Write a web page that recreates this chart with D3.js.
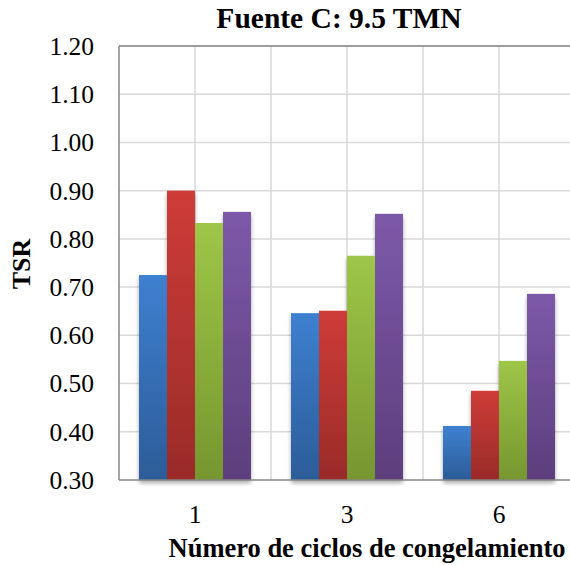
<!DOCTYPE html>
<html>
<head>
<meta charset="utf-8">
<script src="https://cdn.jsdelivr.net/npm/d3@7"></script>
<style>
  body { margin: 0; background: #fff; }
</style>
</head>
<body>
<svg id="chart" width="570" height="565"></svg>
<script>
// chart data
var categories = ["1", "3", "6"];
var seriesNames = ["S1", "S2", "S3", "S4"];
var serie1 = [0.725, 0.646, 0.412];
var serie2 = [0.900, 0.651, 0.485];
var serie3 = [0.833, 0.765, 0.547];
var serie4 = [0.856, 0.852, 0.686];
var yTicks = [0.30, 0.40, 0.50, 0.60, 0.70, 0.80, 0.90, 1.00, 1.10, 1.20];

var colorsTop = ["#3e80d0", "#ce3c38", "#9ec648", "#7d59a9"];
var colorsBottom = ["#2c5c98", "#992b28", "#76962f", "#5d3e7c"];
var fontName = "'Liberation Serif'";

var svg = d3.select("#chart");
var margin = {top: 46, left: 119, bottom: 85, right: -5};
var width = 570 - margin.left - margin.right,
    height = 565 - margin.top - margin.bottom;

var defs = svg.append("defs");
colorsTop.forEach(function(c, i) {
	var g = defs.append("linearGradient")
		.attr("id", "grad" + i)
		.attr("x1", 0).attr("y1", 0).attr("x2", 0).attr("y2", 1);
	g.append("stop").attr("offset", "0%").attr("stop-color", c);
	g.append("stop").attr("offset", "100%").attr("stop-color", colorsBottom[i]);
});
var shadow = defs.append("filter").attr("id", "shadow")
	.attr("x", "-20%").attr("y", "-5%").attr("width", "140%").attr("height", "115%");
shadow.append("feGaussianBlur").attr("in", "SourceAlpha").attr("stdDeviation", 2);
shadow.append("feOffset").attr("dx", 0).attr("dy", 3).attr("result", "ob");
shadow.append("feComponentTransfer").append("feFuncA").attr("type", "linear").attr("slope", 0.35);
var merge = shadow.append("feMerge");
merge.append("feMergeNode");
merge.append("feMergeNode").attr("in", "SourceGraphic");

var chart = svg.append("g")
	.attr("transform", "translate(" + margin.left + "," + margin.top + ")");

var x = d3.scaleBand().domain(categories).range([0, width]).paddingInner(0).paddingOuter(0);
var xs = d3.scaleBand().domain(seriesNames).range([20, x.bandwidth() - 20]);
var y = d3.scaleLinear().domain([0.30, 1.20]).range([height, 0]);

// horizontal gridlines
chart.selectAll(".hgrid")
	.data(yTicks.slice(1))
  .enter()
	.append("line")
	.attr("x1", 0).attr("x2", width)
	.attr("y1", function(d) { return y(d); })
	.attr("y2", function(d) { return y(d); })
	.attr("stroke", "#d9d9d9").attr("stroke-width", 1.5);

// vertical gridlines (band edges and centres)
var vlines = [];
categories.forEach(function(c) {
	if (x(c) > 0) vlines.push(x(c));
	vlines.push(x(c) + x.bandwidth() / 2);
});
chart.selectAll(".vgrid")
	.data(vlines)
  .enter()
	.append("line")
	.attr("x1", function(d) { return d; })
	.attr("x2", function(d) { return d; })
	.attr("y1", 0).attr("y2", height)
	.attr("stroke", "#d9d9d9").attr("stroke-width", 1.5);

// bars
var allSeries = [serie1, serie2, serie3, serie4];
var groups = chart.selectAll(".grp")
	.data(categories)
  .enter()
	.append("g")
	.attr("filter", "url(#shadow)")
	.attr("transform", function(d) { return "translate(" + x(d) + ",0)"; });
groups.selectAll("rect")
	.data(function(d, i) {
		return allSeries.map(function(s, j) { return {name: seriesNames[j], idx: j, value: s[i]}; });
	})
  .enter()
	.append("rect")
	.attr("x", function(d) { return xs(d.name); })
	.attr("width", xs.bandwidth())
	.attr("y", function(d) { return y(d.value); })
	.attr("height", function(d) { return height - y(d.value); })
	.attr("fill", function(d) { return "url(#grad" + d.idx + ")"; });

// axes
chart.append("line")
	.attr("x1", 0).attr("x2", 0).attr("y1", 0).attr("y2", height)
	.attr("stroke", "#868686").attr("stroke-width", 1.5);
chart.append("line")
	.attr("x1", 0).attr("x2", width).attr("y1", height).attr("y2", height)
	.attr("stroke", "#868686").attr("stroke-width", 1.5);
// top border
chart.append("line")
	.attr("x1", 0).attr("x2", width).attr("y1", 0).attr("y2", 0)
	.attr("stroke", "#868686").attr("stroke-width", 1.5);

// y tick labels
chart.selectAll(".ylab")
	.data(yTicks)
  .enter()
	.append("text")
	.attr("x", -25)
	.attr("y", function(d) { return y(d); })
	.attr("dy", "0.35em")
	.attr("text-anchor", "end")
	.attr("font-family", fontName)
	.attr("font-size", 25.5)
	.text(function(d) { return d3.format(".2f")(d); });

// x tick labels
chart.selectAll(".xlab")
	.data(categories)
  .enter()
	.append("text")
	.attr("x", function(d) { return x(d) + x.bandwidth() / 2; })
	.attr("y", height + 43)
	.attr("text-anchor", "middle")
	.attr("font-family", fontName)
	.attr("font-size", 25.5)
	.text(function(d) { return d; });

// titles
svg.append("text")
	.attr("x", 339).attr("y", 28)
	.attr("text-anchor", "middle")
	.attr("font-family", fontName)
	.attr("font-size", 29.5).attr("font-weight", "bold")
	.text("Fuente C: 9.5 TMN");
svg.append("text")
	.attr("x", 367).attr("y", 557)
	.attr("text-anchor", "middle")
	.attr("font-family", fontName)
	.attr("font-size", 26.5).attr("font-weight", "bold")
	.text("Número de ciclos de congelamiento");
svg.append("text")
	.attr("transform", "translate(30,264) rotate(-90)")
	.attr("text-anchor", "middle")
	.attr("font-family", fontName)
	.attr("font-size", 26).attr("font-weight", "bold")
	.text("TSR");
</script>
</body>
</html>
